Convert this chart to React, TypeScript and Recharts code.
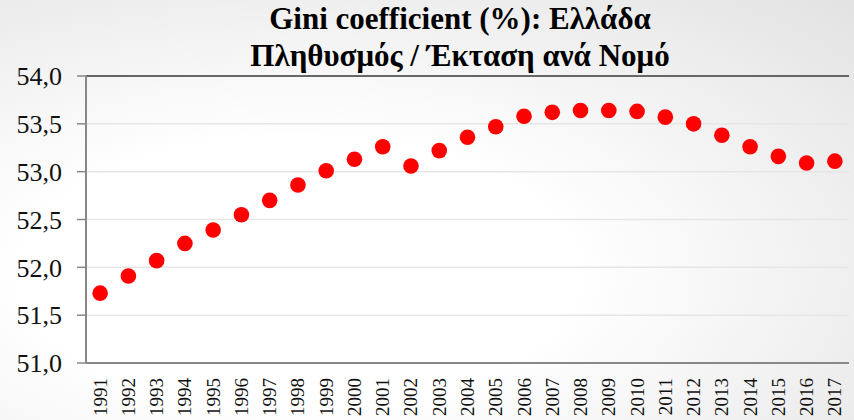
import React from "react";
import {
  ComposedChart,
  Line,
  XAxis,
  YAxis,
  CartesianGrid,
  ReferenceLine,
} from "recharts";

const years = [
  "1991", "1992", "1993", "1994", "1995", "1996", "1997", "1998", "1999",
  "2000", "2001", "2002", "2003", "2004", "2005", "2006", "2007", "2008",
  "2009", "2010", "2011", "2012", "2013", "2014", "2015", "2016", "2017",
];
const gini = [
  51.73, 51.91, 52.07, 52.25, 52.39, 52.55, 52.70, 52.86, 53.01,
  53.13, 53.26, 53.06, 53.22, 53.36, 53.47, 53.58, 53.62, 53.64,
  53.64, 53.63, 53.57, 53.50, 53.38, 53.26, 53.16, 53.09, 53.11,
];
const yTicks = [51, 51.5, 52, 52.5, 53, 53.5, 54];
const boundaryTicks = years.map((_, i) => i).concat([years.length]);
const titleLines = ["Gini coefficient (%): Ελλάδα", "Πληθυσμός / Έκταση ανά Νομό"];

const data = years.map((y, i) => ({ year: y, value: gini[i] }));

const FONT = "Liberation Serif, Tinos, DejaVu Serif, Times New Roman, serif";

const YearTick = (props: any) => {
  const { x, y, payload } = props;
  return (
    <g transform={`translate(${x},${y})`}>
      <text
        transform="rotate(-90)"
        textAnchor="end"
        dominantBaseline="central"
        fontFamily={FONT}
        fontSize={19}
        fill="#111"
      >
        {payload.value}
      </text>
    </g>
  );
};

export default function App() {
  return (
    <div
      style={{
        position: "absolute",
        left: 0,
        top: 0,
        width: 854,
        height: 420,
        background:
          "radial-gradient(ellipse at 35% 65%, #ffffff 35%, #e2e2e2 100%)",
      }}
    >
      <div
        style={{
          position: "absolute",
          left: 0,
          top: 1,
          width: 920,
          textAlign: "center",
          fontFamily: FONT,
          fontWeight: "bold",
          fontSize: 31,
          lineHeight: "36.7px",
          color: "#000",
          whiteSpace: "nowrap",
        }}
      >
        {titleLines.map((t) => (
          <div key={t}>{t}</div>
        ))}
      </div>
      <ComposedChart
        width={854}
        height={420}
        data={data}
        margin={{ top: 76, right: 5, bottom: 0, left: 0 }}
        style={{ position: "absolute", left: 0, top: 0 }}
      >
        <CartesianGrid
          vertical={false}
          stroke="#e6e6e6"
          strokeWidth={1.5}
          yAxisId="left"
          xAxisId="cat"
        />
        <XAxis
          xAxisId="bounds"
          type="number"
          domain={[0, years.length]}
          ticks={boundaryTicks}
          orientation="bottom"
          height={0}
          tick={false}
          tickSize={7}
          tickLine={{ stroke: "#888", strokeWidth: 1.5 }}
          axisLine={false}
          allowDataOverflow
        />
        <XAxis
          xAxisId="cat"
          dataKey="year"
          type="category"
          scale="band"
          orientation="bottom"
          height={57}
          interval={0}
          tickLine={false}
          tickSize={7}
          tickMargin={8}
          axisLine={{ stroke: "#888", strokeWidth: 2 }}
          tick={<YearTick />}
        />
        <YAxis
          yAxisId="left"
          domain={[51, 54]}
          ticks={yTicks}
          width={86}
          tickSize={9}
          tickMargin={15}
          tickLine={{ stroke: "#888", strokeWidth: 1.5 }}
          axisLine={{ stroke: "#888", strokeWidth: 2 }}
          tickFormatter={(v: number) => v.toFixed(1).replace(".", ",")}
          tick={{ fontFamily: FONT, fontSize: 26, fill: "#111" }}
          allowDataOverflow
        />
        <ReferenceLine
          yAxisId="left"
          xAxisId="bounds"
          y={54}
          stroke="#666"
          strokeWidth={2}
        />
        <ReferenceLine
          yAxisId="left"
          xAxisId="bounds"
          x={years.length}
          stroke="#666"
          strokeWidth={2}
        />
        <Line
          xAxisId="cat"
          yAxisId="left"
          dataKey="value"
          stroke="none"
          isAnimationActive={false}
          dot={{ r: 7.8, fill: "#ff0000", stroke: "none" }}
          activeDot={false}
        />
      </ComposedChart>
    </div>
  );
}
